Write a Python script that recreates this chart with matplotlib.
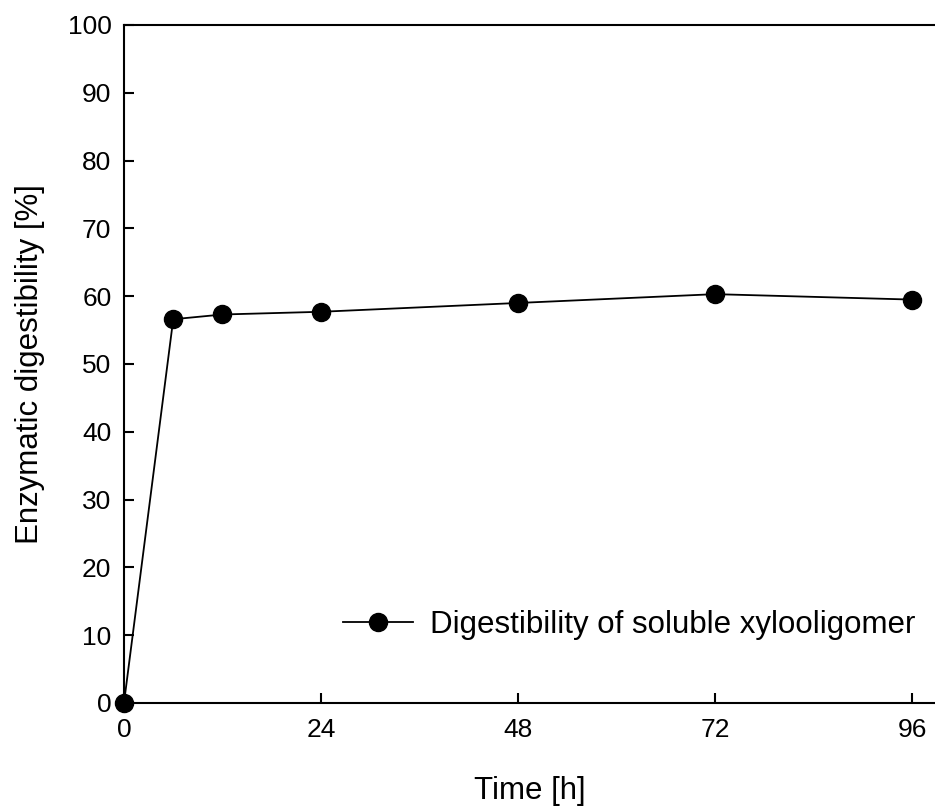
import matplotlib.pyplot as plt

plt.rcParams['font.family'] = ['Liberation Sans', 'DejaVu Sans']

# Enzymatic digestibility over time
tiempo_h = [0, 6, 12, 24, 48, 72, 96]
digestibilidad = [0, 56.6, 57.3, 57.7, 59.0, 60.3, 59.5]
etiqueta = "Digestibility of soluble xylooligomer"

xticks = [0, 24, 48, 72, 96]
yticks = list(range(0, 101, 10))


def main():
    fig = plt.figure(figsize=(9.35, 8.06), dpi=100)
    ax = fig.add_axes([0.1326, 0.1278, 0.8674, 0.8412])

    ax.plot(tiempo_h, digestibilidad, color="black", linewidth=1.3,
            marker="o", markersize=13, clip_on=False, label=etiqueta, zorder=3)

    ax.set_xlim(0, 98.8)
    ax.set_ylim(0, 100)
    ax.set_xticks(xticks)
    ax.set_yticks(yticks)

    for lado in ("left", "bottom", "top"):
        ax.spines[lado].set_linewidth(1.5)
    ax.spines["right"].set_visible(False)

    ax.tick_params(axis="both", direction="in", length=7, width=1.5,
                   labelsize=19, pad=9)
    ax.tick_params(axis="x", pad=11)

    ax.set_xlabel("Time [h]", fontsize=22.5, labelpad=24)
    ax.set_ylabel("Enzymatic digestibility [%]", fontsize=22.5, labelpad=16)

    ax.legend(loc="center left", bbox_to_anchor=(0.27, 0.115), frameon=False,
              fontsize=22.5, handlelength=2.25, handletextpad=0.55,
              borderpad=0, borderaxespad=0)

    fig.savefig("out.png", dpi=100)


main()
